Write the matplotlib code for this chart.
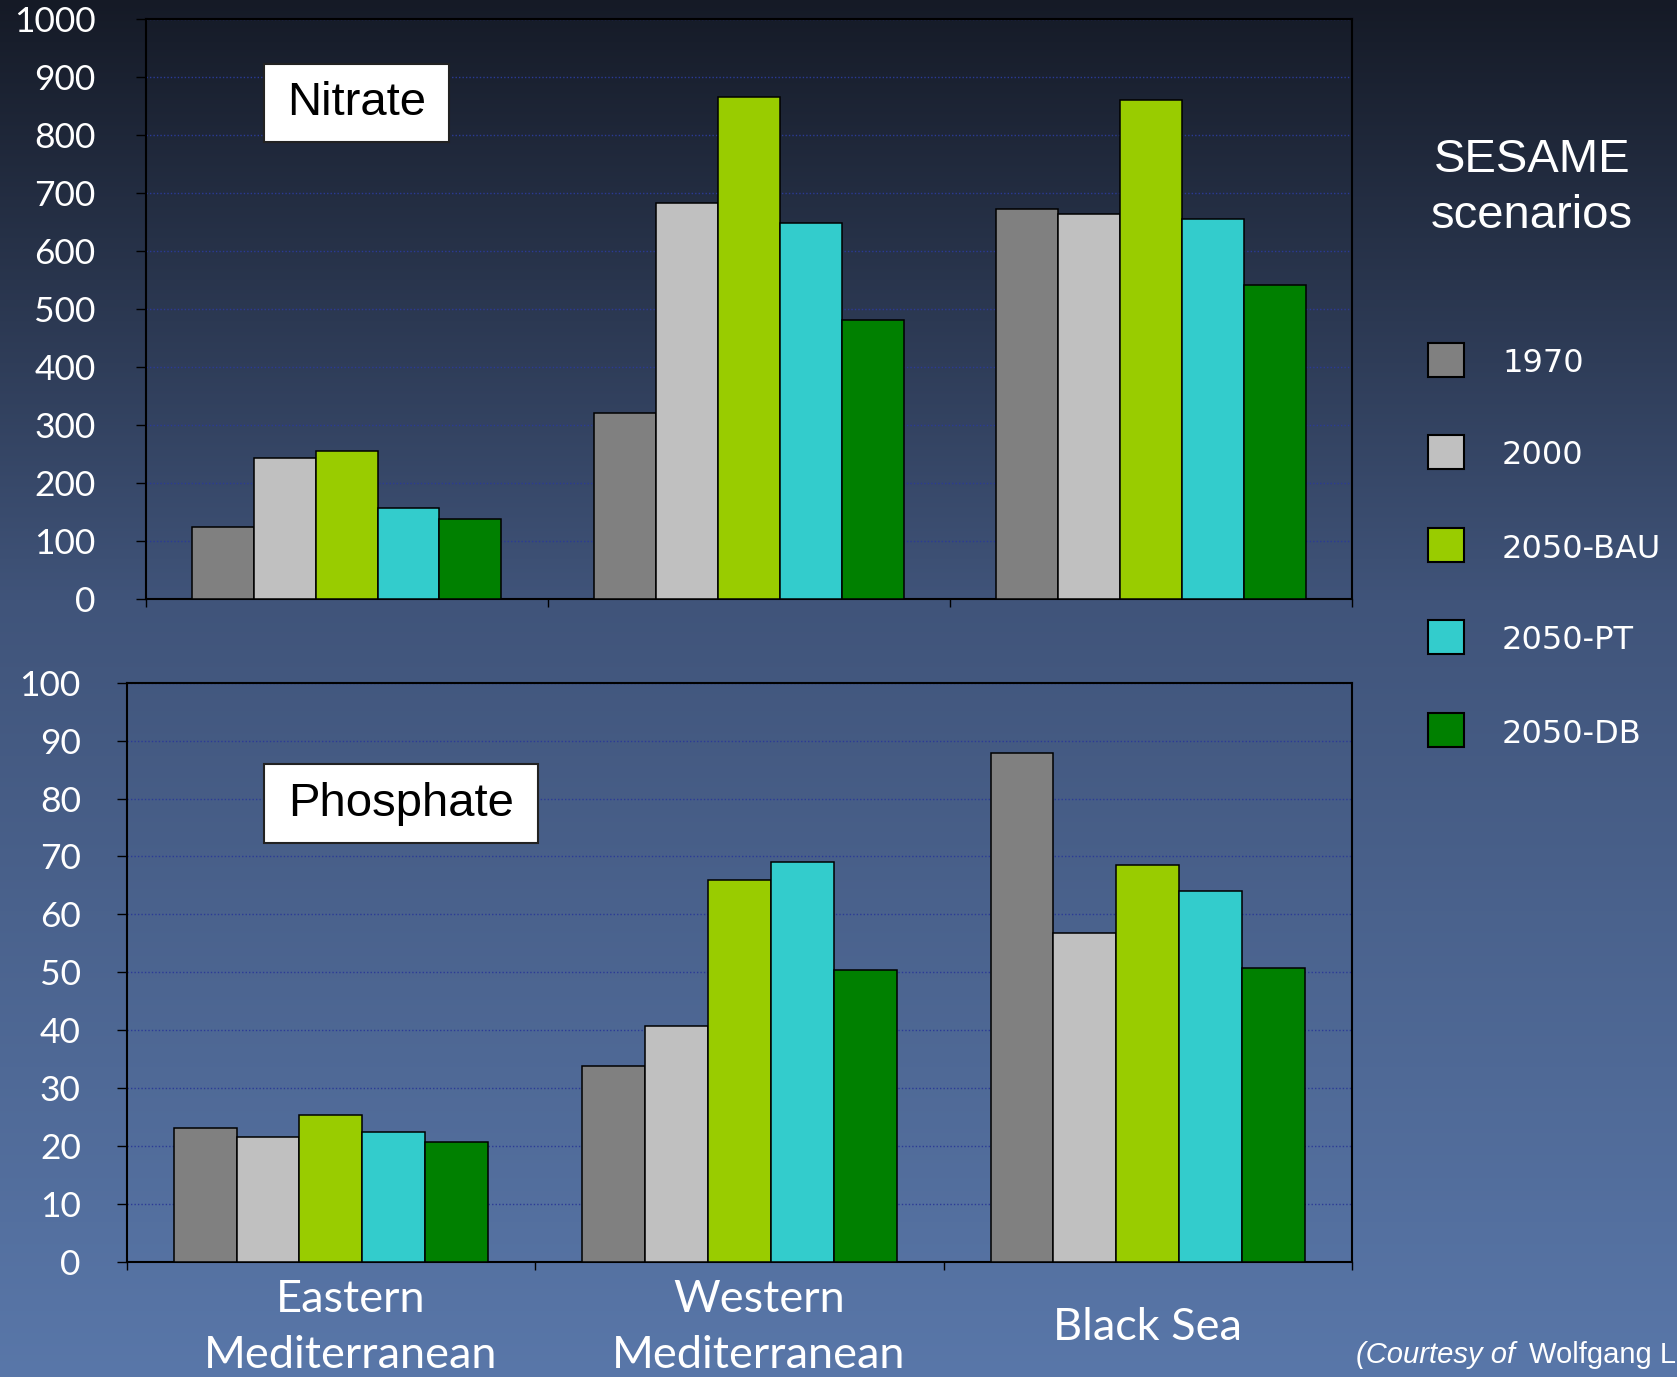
import matplotlib
matplotlib.use("Agg")
from matplotlib import pyplot as plt
from matplotlib.patches import Rectangle
import numpy as np

# Nutrient loads per sea basin under the SESAME scenarios
regions = ["Eastern\nMediterranean", "Western\nMediterranean", "Black Sea"]
scenarios = ["1970", "2000", "2050-BAU", "2050-PT", "2050-DB"]
colors = ["#808080", "#c0c0c0", "#99cc00", "#33cccc", "#008000"]

nitrate = {
    "1970": [125, 321, 673],
    "2000": [243, 683, 664],
    "2050-BAU": [256, 865, 860],
    "2050-PT": [157, 649, 655],
    "2050-DB": [138, 481, 541],
}
phosphate = {
    "1970": [23.1, 33.9, 87.8],
    "2000": [21.6, 40.8, 56.8],
    "2050-BAU": [25.3, 65.9, 68.6],
    "2050-PT": [22.5, 69.0, 64.0],
    "2050-DB": [20.7, 50.4, 50.7],
}

W, H = 1677, 1377
TICK_FONT = "Lato"
BOX_FONT = "Liberation Sans"


def fx(px):
    return px / W


def fy(px):
    return 1 - px / H


def draw_background(fig):
    bg = fig.add_axes([0, 0, 1, 1], zorder=-10)
    stops_y = [0, 600, H]
    stops_c = np.array([[0x15, 0x1a, 0x26], [0x40, 0x54, 0x7a], [0x59, 0x77, 0xa9]]) / 255
    y = np.arange(H)
    grad = np.stack([np.interp(y, stops_y, stops_c[:, k]) for k in range(3)], axis=-1)
    bg.imshow(grad[:, None, :], aspect="auto", extent=[0, 1, 0, 1])
    bg.set_axis_off()


def bar_panel(ax, values, ymax, step):
    x = np.arange(len(regions))
    width = 0.154
    for i, name in enumerate(scenarios):
        ax.bar(x + (i - 2) * width, values[name], width, color=colors[i],
               edgecolor="black", linewidth=1.1, zorder=3)
    ax.set_facecolor("none")
    ax.set_xlim(-0.5, len(regions) - 0.5)
    ax.set_ylim(0, ymax)
    ax.set_yticks(np.arange(0, ymax + step, step))
    ax.set_xticks(np.arange(-0.5, len(regions), 1.0))
    ax.set_xticklabels([])
    ax.yaxis.grid(True, color="#2b3a96", linestyle=(0, (1, 1.5)), linewidth=1.0, zorder=0)
    ax.set_axisbelow(True)
    for s in ax.spines.values():
        s.set_linewidth(1.5)
        s.set_color("black")
    ax.tick_params(axis="y", direction="out", length=7, width=1, color="black",
                   labelcolor="white", labelsize=25.5, pad=29)
    ax.tick_params(axis="x", direction="out", length=6, width=1, color="black")
    for lab in ax.get_yticklabels():
        lab.set_fontfamily(TICK_FONT)


def label_box(fig, x0, y0, x1, y1, text):
    fig.patches.append(Rectangle((fx(x0), fy(y1)), fx(x1 - x0), (y1 - y0) / H,
                                 transform=fig.transFigure, facecolor="white",
                                 edgecolor="#222222", linewidth=1.5, zorder=5))
    fig.text(fx((x0 + x1) / 2), fy((y0 + y1) / 2), text, ha="center", va="center",
             fontsize=34, family=BOX_FONT, color="black", zorder=6)


fig = plt.figure(figsize=(W / 100, H / 100), dpi=100)
draw_background(fig)

ax_n = fig.add_axes([fx(145.5), fy(599), fx(1352 - 145.5), (599 - 19) / H])
bar_panel(ax_n, nitrate, 1000, 100)

ax_p = fig.add_axes([fx(126.7), fy(1262), fx(1352 - 126.7), (1262 - 682.7) / H])
bar_panel(ax_p, phosphate, 100, 10)
ax_p.tick_params(axis="y", pad=26)

# region names under the lower panel
shifts = [14, 14, 0]
for i, name in enumerate(regions):
    ax_p.annotate(name, xy=(i, 0), xycoords=("data", "axes fraction"),
                  xytext=(shifts[i], -47), textcoords="offset points",
                  ha="center", va="center", multialignment="center",
                  fontsize=32.5, family=TICK_FONT, color="white", linespacing=1.45)

label_box(fig, 264, 64, 449, 142, "Nitrate")
label_box(fig, 264, 764, 538, 843, "Phosphate")

# legend
fig.text(fx(1532), fy(160), "SESAME", ha="center", va="center",
         fontsize=34, family=BOX_FONT, color="white")
fig.text(fx(1532), fy(216), "scenarios", ha="center", va="center",
         fontsize=34, family=BOX_FONT, color="white")
legend_y = [360, 452, 545, 637, 730]
for name, c, ly in zip(scenarios, colors, legend_y):
    fig.patches.append(Rectangle((fx(1428), fy(ly + 17)), fx(36), 34 / H,
                                 transform=fig.transFigure, facecolor=c,
                                 edgecolor="black", linewidth=1.5))
    fig.text(fx(1502), fy(ly + 4), name, ha="left", va="center",
             fontsize=23, family="DejaVu Sans", color="white")

fig.text(fx(1356), fy(1363), "(Courtesy of", ha="left", va="baseline",
         fontsize=21, family=BOX_FONT, style="italic", color="white")
fig.text(fx(1529), fy(1363), "Wolfgang Ludwig)", ha="left", va="baseline",
         fontsize=21, family=BOX_FONT, color="white")

fig.savefig("out.png", dpi=100)
